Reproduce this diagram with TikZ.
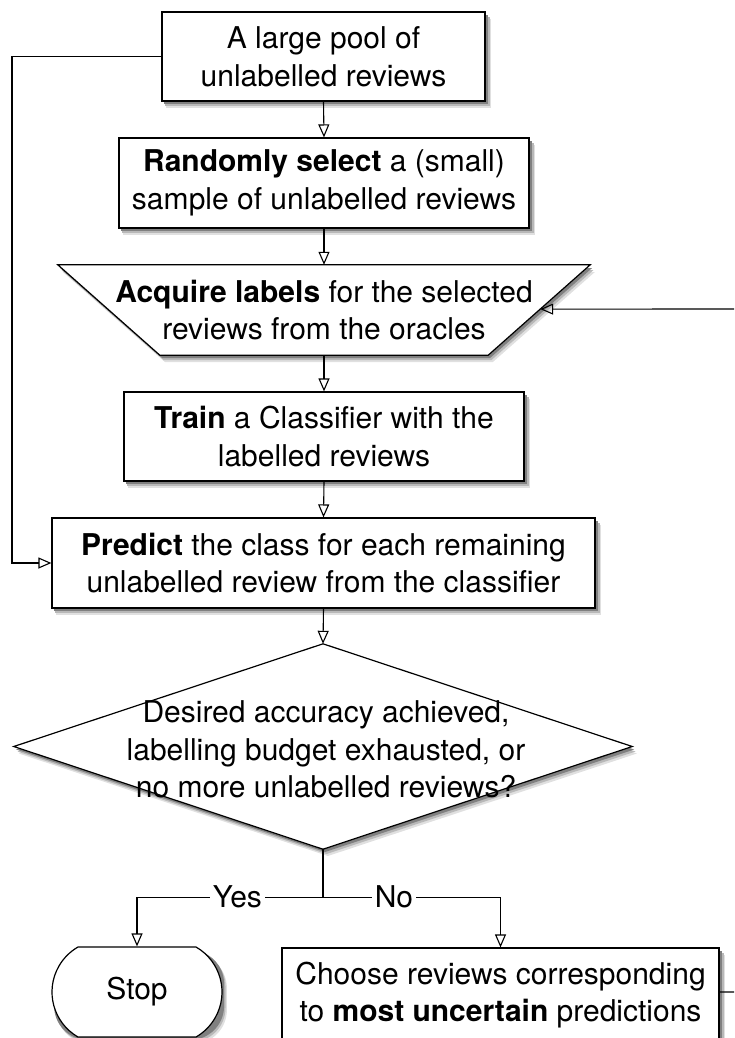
\documentclass[tikz,border=0pt]{standalone}
\usepackage{fontspec}
\setmainfont{TeX Gyre Heros}
\usetikzlibrary{arrows.meta,shapes.misc,calc,positioning}
\begin{document}
\begin{tikzpicture}[x=1pt,y=-1pt,
  every node/.style={font=\fontsize{30}{37.5}\selectfont, align=center, inner sep=0pt},
  box/.style={draw, line width=1.2pt, fill=white, rectangle},
  txt/.style={rectangle},
  arr/.style={line width=1.1pt, -{Triangle[open, length=13pt, width=11pt, line width=1.1pt]}},
  ln/.style={line width=1.1pt},
  lbl/.style={fill=white, inner xsep=3pt},
  sh1/.style={fill=black!12},
  sh2/.style={fill=black!28},
  sh3/.style={fill=black!50}
]
\useasboundingbox (0,0) rectangle (734,1038);
\clip (0,0) rectangle (734,1038);

% shadows (drawn first, under the shapes)
\foreach \cx/\cy/\w/\h in {323.5/56.5/323/89, 324/183/410/90, 324/436.5/400/89, 323.5/563/543/90, 500.5/995/437/94}{
  \fill[sh1] (\cx-\w/2+4,\cy-\h/2+7) rectangle (\cx+\w/2+6,\cy+\h/2+7);
  \fill[sh2] (\cx-\w/2+3,\cy-\h/2+5) rectangle (\cx+\w/2+4.5,\cy+\h/2+5);
  \fill[sh3] (\cx-\w/2+2,\cy-\h/2+3) rectangle (\cx+\w/2+3,\cy+\h/2+3);
}
\foreach \d/\s in {7/sh1,5/sh2,3/sh3}{
  \fill[\s, shift={(\d*0.7,\d)}] (58,265) -- (590,265) -- (488,355) -- (160,355) -- cycle;
  \fill[\s, shift={(\d*0.7,\d)}] (323,644) -- (632,746.5) -- (323,849) -- (14,746.5) -- cycle;
  \fill[\s, rounded corners=34pt, shift={(\d*0.7,\d)}] (52,947) rectangle (222,1037);
}

% boxes
\node[box, minimum width=323pt, minimum height=89pt] (pool) at (323.5,56.5) {A large pool of\\unlabelled reviews};
\node[box, minimum width=410pt, minimum height=90pt] (rand) at (324,183) {\textbf{Randomly select} a (small)\\sample of unlabelled reviews};

% trapezoid
\node[txt, minimum width=532pt, minimum height=90pt] (acq) at (324,310) {};
\coordinate (t1) at (acq.north west);
\coordinate (t2) at (acq.north east);
\coordinate (t3) at ($(acq.south east)+(-102,0)$);
\coordinate (t4) at ($(acq.south west)+(102,0)$);
\draw[line width=1.2pt, fill=white] (t1) -- (t2) -- (t3) -- (t4) -- cycle;
\node[txt] at (acq.center) {\textbf{Acquire labels} for the selected\\reviews from the oracles};
\coordinate (acqR) at ($(t2)!0.49!(t3)$);

\node[box, minimum width=400pt, minimum height=89pt] (train) at (324,436.5) {\textbf{Train} a Classifier with the\\labelled reviews};
\node[box, minimum width=543pt, minimum height=90pt] (pred) at (323.5,563) {\textbf{Predict} the class for each remaining\\unlabelled review from the classifier};

% diamond
\node[txt, minimum width=618pt, minimum height=205pt] (dec) at (323,746.5) {};
\draw[line width=1.2pt, fill=white] (dec.north) -- (dec.east) -- (dec.south) -- (dec.west) -- cycle;
\node[txt] at ($(dec.center)+(3,3)$) {Desired accuracy achieved,\\labelling budget exhausted, or\\no more unlabelled reviews?};

\node[draw, line width=1.2pt, fill=white, rounded rectangle, rounded rectangle arc length=120, minimum width=170pt, minimum height=90pt] (stop) at (137,992) {Stop};
\node[box, minimum width=437pt, minimum height=94pt] (choose) at (500.5,995) {Choose reviews corresponding\\to \textbf{most uncertain} predictions};

% connectors
\draw[arr] (pool.south) -- (rand.north);
\draw[arr] (rand.south) -- (acq.north);
\draw[arr] (acq.south) -- (train.north);
\draw[arr] (train.south) -- (pred.north);
\draw[arr] (pred.south) -- (dec.north);
\draw[arr] (pool.west) -- (12,56.5) |- (pred.west);

\coordinate (split) at ($(dec.south)+(0,48)$);
\draw[ln] (dec.south) -- (split);
\draw[arr] (split) -| node[lbl, pos=0.23] {Yes} (stop.north);
\draw[arr] (split) -| node[lbl, pos=0.2] {No} (choose.north);

\coordinate (far) at (760,309);
\coordinate (chR) at (719,992);
\draw[arr] (chR) -| (far) -- (acqR);
\end{tikzpicture}
\end{document}
